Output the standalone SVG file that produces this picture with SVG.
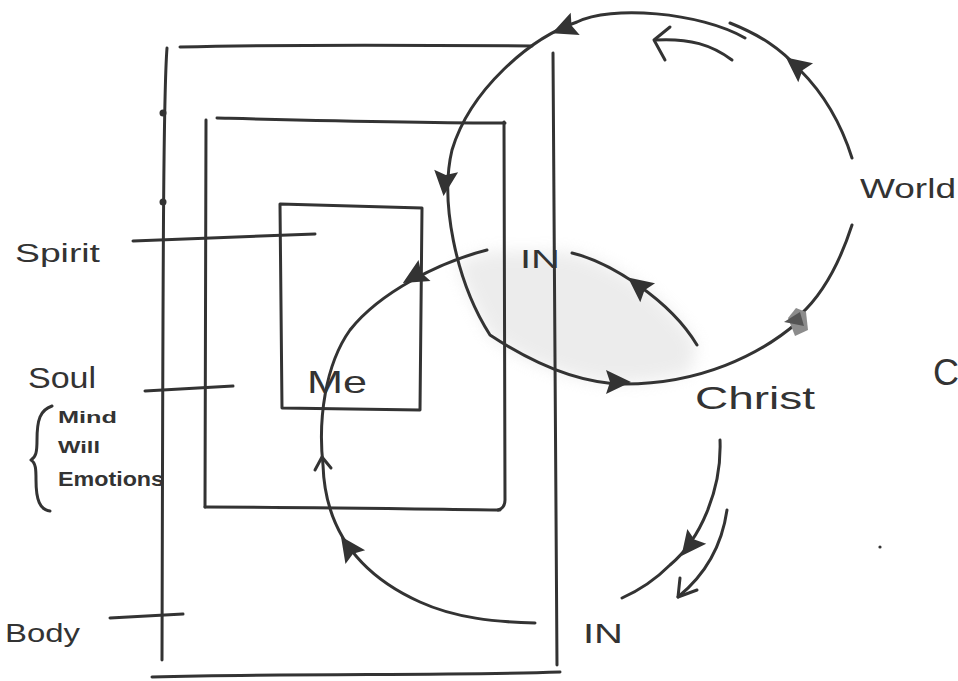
<svg xmlns="http://www.w3.org/2000/svg" xmlns:xlink="http://www.w3.org/1999/xlink" width="958" height="681" viewBox="0 0 958 681">
<style>
.s{fill:none;stroke:#333;stroke-width:3;stroke-linecap:round;stroke-linejoin:round}
.t{font-family:"Liberation Sans","DejaVu Sans",sans-serif;fill:#333}
.ah{fill:#333}
</style>
<defs>
<path id="tri" d="M14,0 L-11,-12 L-7,0 L-11,12 Z"/>
<filter id="blur" x="-20%" y="-20%" width="140%" height="140%"><feGaussianBlur stdDeviation="8"/></filter>
</defs>
<rect width="958" height="681" fill="#fff"/>

<g id="shading">
<path d="M487,252 C530,250 560,252 572,253 C620,265 670,300 697,345 L690,372 C650,384 620,384 600,382 C560,375 520,360 490,335 C470,300 462,280 458,262 Z" fill="#d6d6d6" opacity="0.45" filter="url(#blur)"/>
</g>

<g id="body-box">
<path class="s" d="M180,47 C300,44 420,45 532,46"/>
<path class="s" d="M167,48 C163,100 163,300 162,660"/>
<path class="s" d="M553,53 C552,150 555,400 557,665"/>
<path class="s" d="M152,677 C300,673 450,676 560,672"/>
<circle cx="163" cy="113" r="3.5" fill="#333"/>
<circle cx="163" cy="202" r="3.5" fill="#333"/>
</g>

<g id="soul-box">
<path class="s" d="M217,118 C300,120 420,123 505,123"/>
<path class="s" d="M206,120 L205,507"/>
<path class="s" d="M504,122 L505,500 Q505,508 498,510"/>
<path class="s" d="M205,507 C300,507 420,509 500,510"/>
</g>

<g id="spirit-box">
<path class="s" d="M280,204 L422,208 L420,410 L282,408 Z"/>
</g>

<g id="labels">
<text class="t" x="15" y="262" font-size="26" textLength="85" lengthAdjust="spacingAndGlyphs">Spirit</text>
<text class="t" x="28" y="388" font-size="30" textLength="68" lengthAdjust="spacingAndGlyphs">Soul</text>
<text class="t" x="58" y="423" font-size="17" font-weight="bold" textLength="59" lengthAdjust="spacingAndGlyphs">Mind</text>
<text class="t" x="58" y="453" font-size="17" font-weight="bold" textLength="42" lengthAdjust="spacingAndGlyphs">Will</text>
<text class="t" x="58" y="486" font-size="20" font-weight="bold" textLength="106" lengthAdjust="spacingAndGlyphs">Emotions</text>
<path class="s" d="M52,406 C40,410 37,420 37,440 C37,452 36,457 31,460 C36,463 36,470 36,480 C36,500 40,510 50,511"/>
<text class="t" x="5" y="642" font-size="26" textLength="75" lengthAdjust="spacingAndGlyphs">Body</text>
<text class="t" x="307" y="393" font-size="32" textLength="60" lengthAdjust="spacingAndGlyphs">Me</text>
<text class="t" x="695" y="409" font-size="32" textLength="120" lengthAdjust="spacingAndGlyphs">Christ</text>
<text class="t" x="860" y="198" font-size="28" textLength="96" lengthAdjust="spacingAndGlyphs">World</text>
<text class="t" x="520" y="268" font-size="26" textLength="40" lengthAdjust="spacingAndGlyphs">IN</text>
<text class="t" x="583" y="643" font-size="28" textLength="40" lengthAdjust="spacingAndGlyphs">IN</text>
<text class="t" x="933" y="385" font-size="36">C</text>
</g>

<g id="connectors">
<path class="s" d="M133,241 L315,234"/>
<path class="s" d="M145,391 L233,386"/>
<path class="s" d="M110,618 L183,614"/>

<!-- world circle -->
<path class="s" d="M745,38 C700,12 610,5 577,22 C530,38 470,90 452,150 C440,200 455,280 490,335 C540,368 585,384 625,384 C700,384 760,355 798,322"/>
<path class="s" d="M730,23 C760,35 780,48 800,70 C820,90 840,120 852,158"/>
<path class="s" d="M852,225 C840,262 822,295 800,315"/>
<use href="#tri" class="ah" transform="translate(565,28) rotate(158)"/>
<use href="#tri" class="ah" transform="translate(445,182) rotate(96)"/>
<use href="#tri" class="ah" transform="translate(797,66) rotate(218)"/>
<use href="#tri" class="ah" transform="translate(617,382) rotate(0)"/>
<path d="M788,318 L796,308 L806,312 L808,330 L795,336 Z" fill="#8c8c8c"/>
<path d="M784,322 L800,312 L804,326 Z" fill="#555"/>

<!-- small arrow on top -->
<path class="s" d="M732,60 C712,45 690,38 655,40"/>
<path class="s" d="M670,27 L654,40 L665,60"/>

<!-- me circle -->
<path class="s" d="M487,250 C440,262 380,292 350,330 C325,365 318,420 323,465 C325,530 360,575 420,602 C455,618 495,622 535,623"/>
<path class="s" d="M572,253 C610,262 670,300 697,345"/>
<path class="s" d="M720,440 C722,490 700,540 670,565 C655,580 640,590 622,598"/>
<use href="#tri" class="ah" transform="translate(415,276) rotate(150)"/>
<use href="#tri" class="ah" transform="translate(639,286) rotate(218)"/>
<use href="#tri" class="ah" transform="translate(349,548) rotate(235)"/>
<use href="#tri" class="ah" transform="translate(690,545) rotate(128)"/>
<path class="s" d="M315,470 L322,457 L331,468"/>

<!-- separate arrow lower right -->
<path class="s" d="M727,510 C722,545 705,575 678,597"/>
<path class="s" d="M680,578 L678,597 L697,590"/>

<circle cx="880" cy="547" r="1.6" fill="#333"/>
</g>
</svg>
